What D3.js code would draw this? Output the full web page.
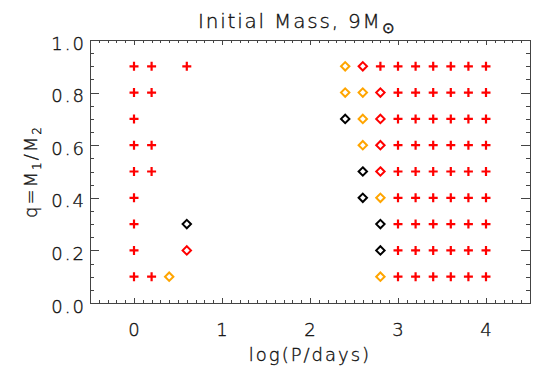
<!DOCTYPE html>
<html>
<head>
<meta charset="utf-8">
<script src="https://cdn.jsdelivr.net/npm/d3@7"></script>
<style>
body{margin:0;background:#fff;}
text{font-family:"DejaVu Sans",sans-serif;font-weight:200;fill:#111;stroke:#111;stroke-width:0.35px;letter-spacing:2px;}
</style>
</head>
<body>
<div id="chart"></div>
<script>
// outcome of each binary model: [logP, q]
var plusPts=[
 [0,0.9],[0.2,0.9],[0.6,0.9],
 [0,0.8],[0.2,0.8],
 [0,0.7],
 [0,0.6],[0.2,0.6],
 [0,0.5],[0.2,0.5],
 [0,0.4],[0,0.3],[0,0.2],
 [0,0.1],[0.2,0.1],
 [2.8,0.9],[3.0,0.9],[3.2,0.9],[3.4,0.9],[3.6,0.9],[3.8,0.9],[4.0,0.9],
 [3.0,0.8],[3.2,0.8],[3.4,0.8],[3.6,0.8],[3.8,0.8],[4.0,0.8],
 [3.0,0.7],[3.2,0.7],[3.4,0.7],[3.6,0.7],[3.8,0.7],[4.0,0.7],
 [3.0,0.6],[3.2,0.6],[3.4,0.6],[3.6,0.6],[3.8,0.6],[4.0,0.6],
 [3.0,0.5],[3.2,0.5],[3.4,0.5],[3.6,0.5],[3.8,0.5],[4.0,0.5],
 [3.0,0.4],[3.2,0.4],[3.4,0.4],[3.6,0.4],[3.8,0.4],[4.0,0.4],
 [3.0,0.3],[3.2,0.3],[3.4,0.3],[3.6,0.3],[3.8,0.3],[4.0,0.3],
 [3.0,0.2],[3.2,0.2],[3.4,0.2],[3.6,0.2],[3.8,0.2],[4.0,0.2],
 [3.0,0.1],[3.2,0.1],[3.4,0.1],[3.6,0.1],[3.8,0.1],[4.0,0.1]
];
var redDiam=[[0.6,0.2],[2.6,0.9],[2.8,0.8],[2.8,0.7],[2.8,0.6],[2.8,0.5]];
var orangeDiam=[[0.4,0.1],[2.4,0.9],[2.4,0.8],[2.6,0.8],[2.6,0.7],[2.6,0.6],[2.8,0.4],[2.8,0.1]];
var blackDiam=[[0.6,0.3],[2.4,0.7],[2.6,0.5],[2.6,0.4],[2.8,0.3],[2.8,0.2]];

var xTicks=[0,1,2,3,4];
var yTicks=[0,0.2,0.4,0.6,0.8,1.0];

var W=540,H=386;
var mLeft=90,mRight=530,mTop=40,mBottom=303;

var svg=d3.select("#chart").append("svg").attr("width",W).attr("height",H);

var x=d3.scaleLinear().domain([-0.5,4.5]).range([mLeft,mRight]);
var y=d3.scaleLinear().domain([0,1]).range([mBottom,mTop]);

var pw=mRight-mLeft, ph=mBottom-mTop;
var xMaj=0.02*ph, yMaj=0.02*pw;

function tickAxis(gen,tr){
	var g=svg.append("g").attr("transform",tr).call(gen);
	g.select(".domain").remove();
	g.selectAll("line").attr("stroke","#444").attr("shape-rendering","crispEdges");
	g.selectAll("text").remove();
	return g;
}
var xMinor=d3.range(-5,46).map(function(i){return i/10;});
var yMinor=d3.range(0,21).map(function(i){return i/20;});

tickAxis(d3.axisBottom(x).tickValues(xTicks).tickSize(-xMaj),"translate(0,"+mBottom+")");
tickAxis(d3.axisBottom(x).tickValues(xMinor).tickSize(-xMaj/2),"translate(0,"+mBottom+")");
tickAxis(d3.axisTop(x).tickValues(xTicks).tickSize(-xMaj),"translate(0,"+mTop+")");
tickAxis(d3.axisTop(x).tickValues(xMinor).tickSize(-xMaj/2),"translate(0,"+mTop+")");
tickAxis(d3.axisLeft(y).tickValues(yTicks).tickSize(-yMaj),"translate("+mLeft+",0)");
tickAxis(d3.axisLeft(y).tickValues(yMinor).tickSize(-yMaj/2),"translate("+mLeft+",0)");
tickAxis(d3.axisRight(y).tickValues(yTicks).tickSize(-yMaj),"translate("+mRight+",0)");
tickAxis(d3.axisRight(y).tickValues(yMinor).tickSize(-yMaj/2),"translate("+mRight+",0)");

svg.append("rect")
	.attr("x",mLeft+0.5).attr("y",mTop+0.5)
	.attr("width",pw).attr("height",ph)
	.attr("fill","none").attr("stroke","#444").attr("stroke-width",1);

// tick labels
svg.selectAll(".xl").data(xTicks).enter().append("text")
	.attr("x",function(d){return x(d)+1;})
	.attr("y",336)
	.attr("text-anchor","middle")
	.style("font-size","18px")
	.text(function(d){return d;});

svg.selectAll(".yl").data(yTicks).enter().append("text")
	.attr("x",86)
	.attr("y",function(d){return y(d)+9.5;})
	.attr("text-anchor","end")
	.style("font-size","18px")
	.text(function(d){return d.toFixed(1);});

// titles
var t=svg.append("text").attr("x",198).attr("y",28)
	.style("font-size","20px").style("letter-spacing","1.8px");
t.append("tspan").text("Initial Mass, 9M");
t.append("tspan").attr("dy",5).style("font-size","15px").text("\u2299");

svg.append("text").attr("x",(mLeft+mRight)/2).attr("y",361)
	.attr("text-anchor","middle").style("font-size","18px")
	.text("log(P/days)");

var yt=svg.append("text")
	.attr("transform","translate(37,"+((mTop+mBottom)/2)+") rotate(-90)")
	.attr("text-anchor","middle").style("font-size","18px");
yt.append("tspan").text("q=M");
yt.append("tspan").attr("dy",4).style("font-size","12px").text("1");
yt.append("tspan").attr("dy",-4).text("/M");
yt.append("tspan").attr("dy",4).style("font-size","12px").text("2");

// markers
var plot=svg.append("g");
plot.selectAll(".plus").data(plusPts).enter().append("path")
	.attr("class","plus")
	.attr("transform",function(d){return "translate("+x(d[0])+","+y(d[1])+")";})
	.attr("d","M-4.5,0H4.5M0,-4.5V4.5")
	.attr("stroke","#ff0000").attr("stroke-width",2.2).attr("fill","none");

function diamonds(arr,col){
	plot.selectAll(null).data(arr).enter().append("path")
		.attr("transform",function(d){return "translate("+x(d[0])+","+y(d[1])+")";})
		.attr("d","M0,-4.2L4.2,0L0,4.2L-4.2,0Z")
		.attr("stroke",col).attr("stroke-width",2).attr("fill","none");
}
diamonds(redDiam,"#ff0000");
diamonds(orangeDiam,"#ffa500");
diamonds(blackDiam,"#000000");
</script>
</body>
</html>
